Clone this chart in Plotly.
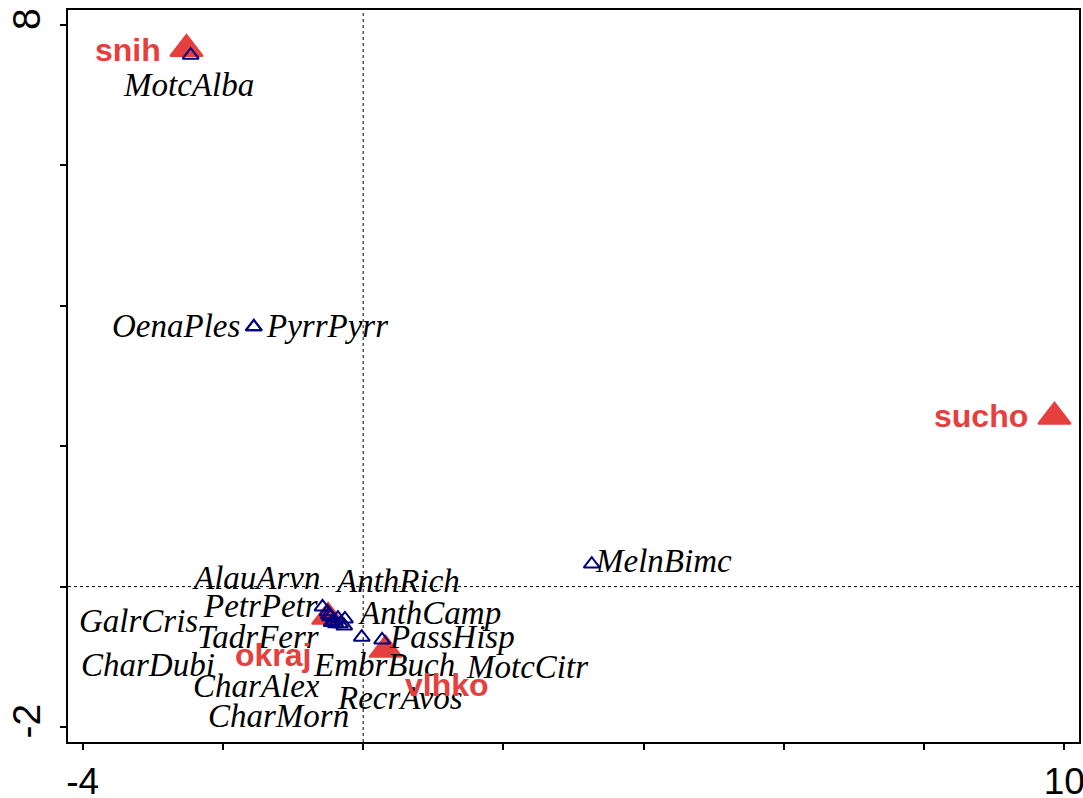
import plotly.graph_objects as go

# Environmental variables (biplot scores)
env_names = ["snih", "sucho", "okraj", "vlhko"]
env_x = [-2.52, 9.86, -0.50, 0.32]
env_y = [7.66, 2.42, -0.43, -0.90]
env_label_x = [-3.35, 8.81, -1.29, 1.19]
env_label_y = [7.64, 2.43, -0.97, -1.40]

# Species scores
sp_names = ["MotcAlba", "OenaPles", "PyrrPyrr", "MelnBimc", "AlauArvn", "AnthRich",
            "PetrPetr", "AnthCamp", "GalrCris", "TadrFerr", "PassHisp", "CharDubi",
            "EmbrBuch", "MotcCitr", "CharAlex", "RecrAvos", "CharMorn"]
sp_x = [-2.46, -1.56, -1.56, 3.26, -0.41, -0.26,
        -0.58, -0.33, -0.51, -0.47, 0.27, -0.39,
        -0.02, -0.36, -0.45, -0.27, -0.49]
sp_y = [7.57, 3.70, 3.70, 0.32, -0.49, -0.46,
        -0.29, -0.53, -0.36, -0.43, -0.76, -0.53,
        -0.72, -0.45, -0.51, -0.56, -0.40]
sp_label_x = [-2.49, -2.67, -0.51, 4.29, -1.53, 0.49,
              -1.47, 0.95, -3.20, -1.50, 1.26, -3.07,
              0.29, 2.33, -1.52, 0.52, -1.21]
sp_label_y = [7.15, 3.71, 3.71, 0.36, 0.12, 0.08,
              -0.28, -0.38, -0.49, -0.72, -0.72, -1.11,
              -1.11, -1.14, -1.42, -1.59, -1.85]

# Axis ticks
x_ticks = [-4, -2, 0, 2, 4, 6, 8, 10]
x_tick_text = ["-4", "", "", "", "", "", "", "10"]
y_ticks = [-2, 0, 2, 4, 6, 8]
y_tick_text = ["-2", "", "", "", "", "8"]

RED = "#E5403D"
NAVY = "#000080"

fig = go.Figure()

fig.add_trace(go.Scatter(
    x=env_x, y=env_y, mode="markers",
    marker=dict(symbol="triangle-up", size=28, color=RED,
                line=dict(color=RED, width=2)),
    hoverinfo="text", hovertext=env_names, showlegend=False,
))

fig.add_trace(go.Scatter(
    x=sp_x, y=sp_y, mode="markers",
    marker=dict(symbol="triangle-up-open", size=14, color=NAVY,
                line=dict(color=NAVY, width=2)),
    hoverinfo="text", hovertext=sp_names, showlegend=False,
))

for name, lx, ly in zip(sp_names, sp_label_x, sp_label_y):
    fig.add_annotation(
        x=lx, y=ly, text=name, showarrow=False,
        xanchor="center", yanchor="middle",
        font=dict(family="Liberation Serif", size=33, color="black", style="italic"),
    )

for name, lx, ly in zip(env_names, env_label_x, env_label_y):
    fig.add_annotation(
        x=lx, y=ly, text=name, showarrow=False,
        xanchor="center", yanchor="middle",
        font=dict(family="Liberation Sans", size=32, color=RED, weight="bold"),
    )

# Dotted reference lines through the origin
fig.add_shape(type="line", xref="x", yref="paper", x0=0, x1=0, y0=0, y1=1,
              line=dict(color="black", width=1, dash="dot"), layer="below")
fig.add_shape(type="line", xref="paper", yref="y", x0=0, x1=1, y0=0, y1=0,
              line=dict(color="black", width=1, dash="dot"), layer="below")

axis_common = dict(
    showgrid=False, zeroline=False, showline=True, mirror=True,
    linecolor="black", linewidth=2, automargin=False,
    ticks="outside", ticklen=6, tickwidth=1.5, tickcolor="black",
    ticklabeloverflow="allow",
)

fig.update_xaxes(range=[-4.21, 10.21], tickmode="array", tickvals=x_ticks,
                 ticktext=x_tick_text, ticklabelstandoff=0,
                 tickfont=dict(family="Liberation Sans", size=37, color="black"),
                 **axis_common)
fig.update_yaxes(range=[-2.214, 8.214], tickmode="array", tickvals=y_ticks,
                 ticktext=y_tick_text, tickangle=-90, ticklabelstandoff=4,
                 tickfont=dict(family="Liberation Sans", size=39, color="black"),
                 **axis_common)

fig.update_layout(
    width=1083, height=798,
    margin=dict(l=68, r=4, t=10, b=56),
    plot_bgcolor="white", paper_bgcolor="white",
    showlegend=False,
)

fig.write_html("out.html")
